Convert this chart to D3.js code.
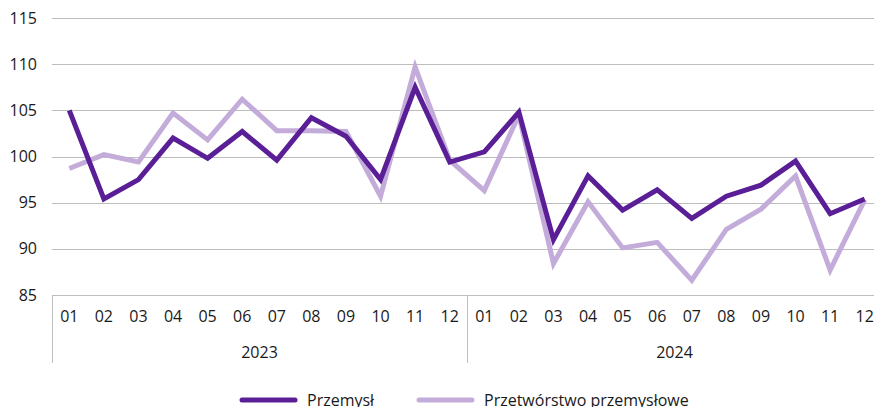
<!DOCTYPE html>
<html>
<head>
<meta charset="utf-8">
<script src="https://cdn.jsdelivr.net/npm/d3@7"></script>
<style>
  body { margin: 0; background: #fff; }
  svg text { font-family: "Open Sans", sans-serif; fill: #1a1a1a; }
</style>
</head>
<body>
<svg id="chart" width="874" height="407"></svg>
<script>
// data
var months = ["01","02","03","04","05","06","07","08","09","10","11","12"];
var years = ["2023", "2024"];
var przemysl = [105.0, 95.4, 97.5, 102.0, 99.8, 102.7, 99.6, 104.2, 102.2, 97.5, 107.5, 99.4,
                100.5, 104.8, 91.0, 97.9, 94.2, 96.4, 93.3, 95.7, 96.9, 99.5, 93.8, 95.4];
var przetworstwo = [98.7, 100.2, 99.4, 104.7, 101.8, 106.2, 102.8, 102.8, 102.7, 95.7, 109.7, 99.6,
                    96.3, 104.5, 88.4, 95.1, 90.1, 90.7, 86.6, 92.1, 94.3, 97.9, 87.7, 95.3];
var yTicks = [85, 90, 95, 100, 105, 110, 115];
var seriesNames = ["Przemysł", "Przetwórstwo przemysłowe"];
var colors = ["#5a1e96", "#c3acda"];

var svg = d3.select("#chart");
var plotLeft = 52, plotRight = 882, plotTop = 18, plotBottom = 295;

var keys = [];
years.forEach(function (yr) { months.forEach(function (m) { keys.push(yr + "-" + m); }); });

var x = d3.scaleBand().domain(keys).range([plotLeft, plotRight]);
var y = d3.scaleLinear().domain([85, 115]).range([plotBottom, plotTop]);

// gridlines
svg.append("g").selectAll("line")
    .data(yTicks)
    .enter().append("line")
    .attr("x1", plotLeft).attr("x2", 874)
    .attr("y1", function (d) { return Math.round(y(d)) + 0.5; })
    .attr("y2", function (d) { return Math.round(y(d)) + 0.5; })
    .attr("stroke", "#bdbdbd").attr("stroke-width", 1);

// y labels
svg.append("g").selectAll("text")
    .data(yTicks)
    .enter().append("text")
    .attr("x", 37).attr("y", function (d) { return y(d); })
    .attr("dy", "0.35em")
    .attr("text-anchor", "end")
    .attr("font-size", 16)
    .text(function (d) { return d; });

// year separators
var sepX = [plotLeft, x(years[1] + "-01")];
svg.append("g").selectAll("line")
    .data(sepX)
    .enter().append("line")
    .attr("x1", function (d) { return Math.round(d) + 0.5; })
    .attr("x2", function (d) { return Math.round(d) + 0.5; })
    .attr("y1", plotBottom).attr("y2", 363)
    .attr("stroke", "#bdbdbd").attr("stroke-width", 1);

// month labels
svg.append("g").selectAll("text")
    .data(keys)
    .enter().append("text")
    .attr("x", function (d) { return x(d) + x.bandwidth() / 2; })
    .attr("y", 316).attr("dy", "0.35em")
    .attr("text-anchor", "middle")
    .attr("font-size", 16)
    .text(function (d) { return d.split("-")[1]; });

// year labels
svg.append("g").selectAll("text")
    .data(years)
    .enter().append("text")
    .attr("x", function (d) { return (x(d + "-01") + x(d + "-12") + x.bandwidth()) / 2; })
    .attr("y", 352).attr("dy", "0.35em")
    .attr("text-anchor", "middle")
    .attr("font-size", 16)
    .text(function (d) { return d; });

// lines
var line = d3.line()
    .x(function (d, i) { return x(keys[i]) + x.bandwidth() / 2; })
    .y(function (d) { return y(d); });

[przetworstwo, przemysl].forEach(function (s, k) {
    svg.append("path")
        .datum(s)
        .attr("d", line)
        .attr("fill", "none")
        .attr("stroke", colors[1 - k])
        .attr("stroke-width", 5)
        .attr("stroke-linejoin", "miter");
});

// legend
var legendX = [240, 417];
seriesNames.forEach(function (name, i) {
    var g = svg.append("g").attr("transform", "translate(" + legendX[i] + ",400)");
    g.append("line")
        .attr("x1", 2).attr("x2", 55)
        .attr("stroke", colors[i]).attr("stroke-width", 5)
        .attr("stroke-linecap", "round");
    g.append("text")
        .attr("x", 67).attr("dy", "0.35em")
        .attr("font-size", 16)
        .text(name);
});
</script>
</body>
</html>
